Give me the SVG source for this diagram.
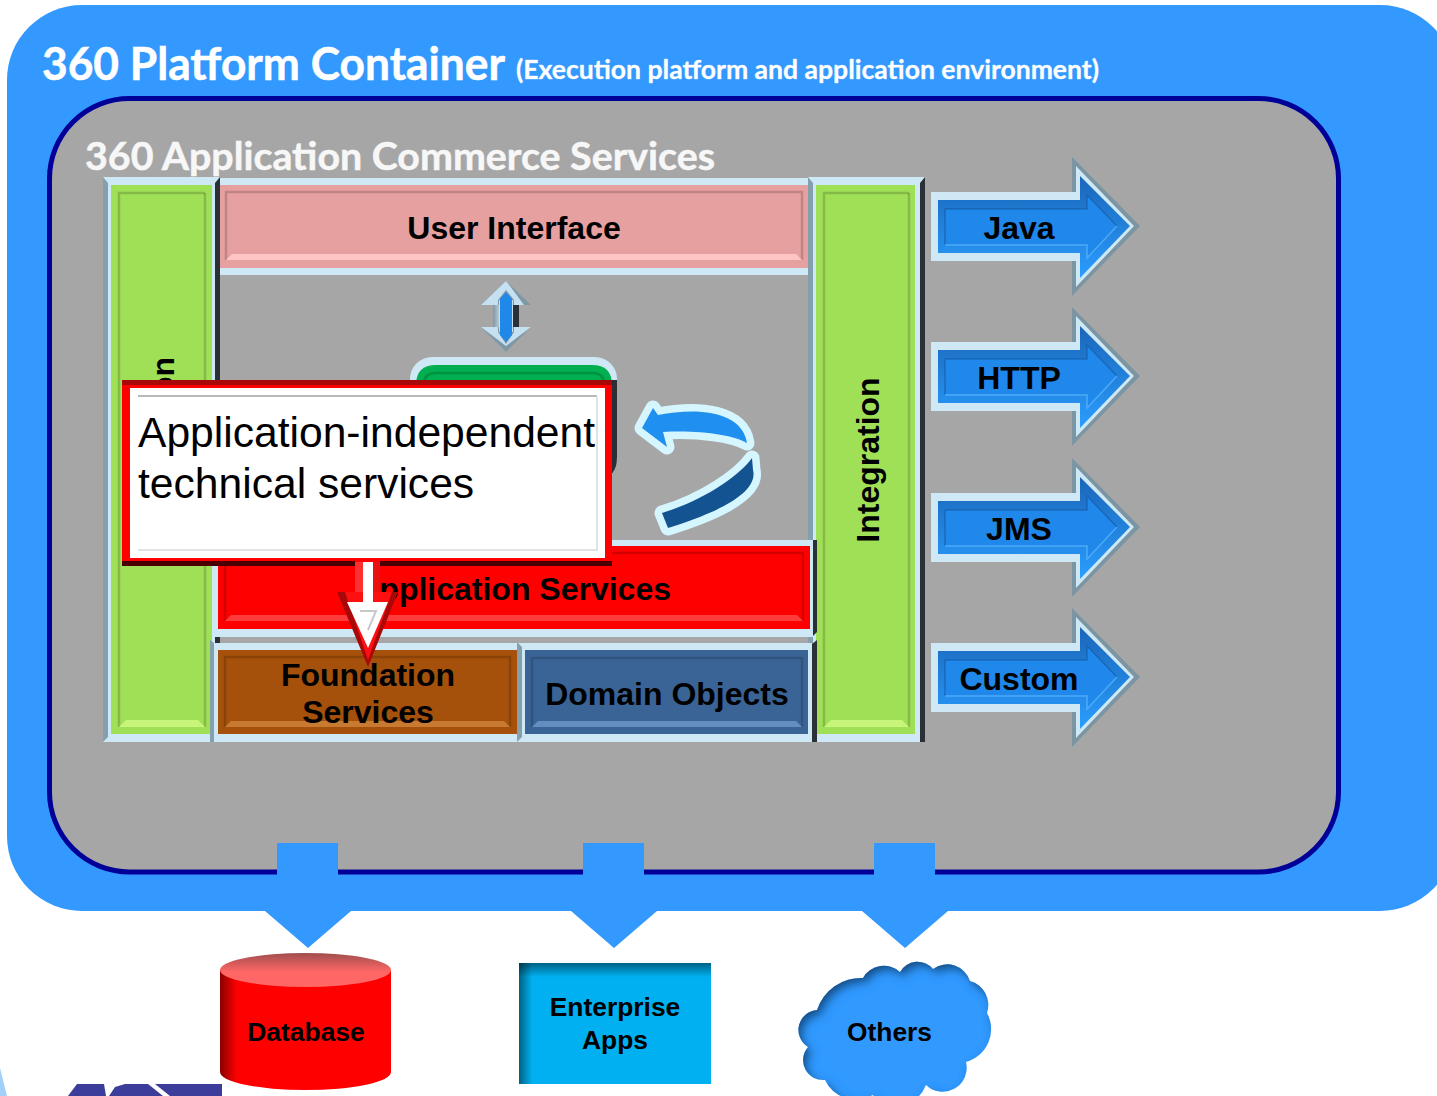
<svg xmlns="http://www.w3.org/2000/svg" width="1437" height="1096" viewBox="0 0 1437 1096">
<style>
.t{font-family:"Liberation Sans",Arial,sans-serif;font-weight:700;fill:#000;text-anchor:middle}
.b32{font-size:32px}.b27{font-size:26.4px}
.h{font-family:Lato,"Open Sans",sans-serif;font-weight:700;stroke-width:.5}
.lt{fill:#cfe8f6}.gy{fill:#84a0ae}.dk{fill:#2b3036}
.ed{fill:none;stroke:#000;stroke-opacity:.17;stroke-width:2.5}
</style>
<defs>
<linearGradient id="arBlue" x1="0" y1="0" x2="0" y2="1"><stop offset="0" stop-color="#1a66b8"/><stop offset="1" stop-color="#2a9dff"/></linearGradient>
<linearGradient id="dbSide" x1="0" y1="0" x2="1" y2="0"><stop offset="0" stop-color="#8a0000"/><stop offset=".1" stop-color="#ff0000"/><stop offset="1" stop-color="#ff0000"/></linearGradient>
<linearGradient id="dbTop" x1="0" y1="0" x2="0" y2="1"><stop offset="0" stop-color="#a04e4e"/><stop offset=".55" stop-color="#ff6666"/><stop offset="1" stop-color="#ff6666"/></linearGradient>
<linearGradient id="apTop" x1="0" y1="0" x2="0" y2="1"><stop offset="0" stop-color="#000" stop-opacity=".45"/><stop offset="1" stop-color="#000" stop-opacity="0"/></linearGradient>
<linearGradient id="apLeft" x1="0" y1="0" x2="1" y2="0"><stop offset="0" stop-color="#000" stop-opacity=".45"/><stop offset="1" stop-color="#000" stop-opacity="0"/></linearGradient>
<linearGradient id="shGy" x1="0" y1="0" x2="1" y2="0"><stop offset="0" stop-color="#7f97a6"/><stop offset="1" stop-color="#b4cad6"/></linearGradient>
<filter id="inShadow" x="-10%" y="-10%" width="120%" height="120%">
<feOffset in="SourceAlpha" dx="4" dy="5" result="o"/><feGaussianBlur in="o" stdDeviation="5" result="b"/>
<feComposite in="SourceAlpha" in2="b" operator="out" result="i"/>
<feFlood flood-color="#0b2a4a" flood-opacity=".85"/><feComposite in2="i" operator="in" result="s"/>
<feMerge><feMergeNode in="SourceGraphic"/><feMergeNode in="s"/></feMerge>
</filter>
<g id="arw">
<polygon fill="#7c95a3" points="931,192 1072,192 1072,157 1140,226 1072,296 1072,261 931,261"/>
<polygon class="lt" points="931,192 1076,192 1076,166 1134,226 1076,287 1076,261 931,261"/>
<polygon fill="url(#arBlue)" points="938,200 1080,200 1080,176 1130,226 1080,278 1080,253 938,253"/>
<polygon fill="#2088ea" points="945,209 1087,209 1087,195 1117,226 1087,258 1087,245 945,245"/>
<polyline fill="none" stroke="#14549c" stroke-opacity=".55" stroke-width="1.500" points="945,245 945,209 1087,209 1087,195 1117,226"/>
<polyline fill="none" stroke="#5cb8ff" stroke-opacity=".7" stroke-width="1.500" points="945,245 1087,245 1087,258 1117,226"/>
</g>
</defs>

<g id="platform">
<rect x="7" y="5" width="1448" height="906" rx="75" ry="75" fill="#3399ff"/>
<text class="h" x="42" y="80" font-size="45" fill="#fff" stroke="#fff" textLength="463" lengthAdjust="spacingAndGlyphs">360 Platform Container</text>
<text class="h" x="516" y="79" font-size="26" fill="#fff" stroke="#fff" stroke-opacity=".6" textLength="583" lengthAdjust="spacingAndGlyphs">(Execution platform and application environment)</text>
</g>

<g id="commerce">
<rect x="49.500" y="98.500" width="1289" height="773.500" rx="80" ry="80" fill="#a6a6a6" stroke="#000099" stroke-width="5"/>
<text class="h" x="85" y="170" font-size="39" fill="#f7f7f7" stroke="#f7f7f7" textLength="630" lengthAdjust="spacingAndGlyphs">360 Application Commerce Services</text>
</g>

<g id="left-bar">
<rect class="lt" x="103" y="177" width="117" height="565"/>
<polygon class="gy" points="103,177 108,183 108,737 103,742"/>
<polygon class="dk" points="220,177 215,183 215,742 220,742"/>
<rect x="111" y="185" width="101" height="549" fill="#a0e057"/>
<polyline class="ed" points="119,727 119,193 205,193"/>
<polyline class="ed" stroke-opacity=".1" points="205,193 205,727"/>
<polygon fill="#c6f57a" points="119,727 205,727 198,720 126,720"/>
<text class="t b32" transform="translate(174,357) rotate(-90)" style="text-anchor:end">on</text>
</g>

<g id="user-interface">
<rect class="lt" x="220" y="178" width="588" height="97"/>
<rect x="220" y="185" width="588" height="83" fill="#e6a0a0"/>
<polyline class="ed" points="226,260 226,192 802,192 802,260"/>
<polygon fill="#ffc4c4" points="226,260 802,260 796,254 232,254"/>
<text class="t b32" x="514" y="239">User Interface</text>
</g>

<g id="integration">
<rect class="lt" x="808" y="177" width="117" height="565"/>
<polygon class="gy" points="808,177 813,183 813,742 808,742"/>
<polygon class="dk" points="925,177 920,183 920,742 925,742"/>
<rect x="816" y="185" width="99" height="549" fill="#a0e057"/>
<polyline class="ed" points="824,727 824,193 909,193"/>
<polyline class="ed" stroke-opacity=".1" points="909,193 909,727"/>
<polygon fill="#c6f57a" points="824,727 909,727 902,720 831,720"/>
<text class="t b32" transform="translate(879,460) rotate(-90)">Integration</text>
</g>

<g id="application-logic">
<rect x="410" y="357" width="207" height="122" rx="22" class="lt"/>
<path d="M617,380 V457 Q617,477 600,479 L596,475 Q612,470 612,455 V380 Z" class="dk"/>
<path d="M416,480 V385 Q416,365 436,365 H592 Q612,365 612,385 V480 Z" fill="#00b050"/>
<path d="M424,384 Q424,373 436,373 H592 Q604,373 604,384" class="ed"/>
</g>

<g id="app-services">
<rect class="lt" x="212" y="540" width="603" height="97"/>
<rect x="218" y="546" width="592" height="83" fill="#ff0000"/>
<polygon class="dk" points="813,540 817,540 817,632 813,636"/>
<polyline class="ed" points="225,621 225,553 803,553 803,621"/>
<polygon fill="#ff3c3c" points="225,621 803,621 797,615 231,615"/>
<text class="t b32" x="671" y="600" style="text-anchor:end">Application Services</text>
</g>

<g id="foundation">
<rect class="lt" x="212" y="643" width="307" height="99"/>
<polygon class="gy" points="210,640 214,643 214,742 210,742"/>
<rect x="218" y="650" width="299" height="84" fill="#a5510b"/>
<polyline class="ed" points="225,727 225,657 510,657 510,727"/>
<polygon fill="#c87a30" points="225,727 510,727 504,721 231,721"/>
<text class="t b32" x="368" y="686">Foundation</text>
<text class="t b32" x="368" y="723">Services</text>
</g>

<g id="domain-objects">
<rect class="lt" x="517" y="643" width="295" height="99"/>
<polygon class="gy" points="517,642 522,647 522,737 517,742"/>
<polygon class="dk" points="812,644 817,640 817,742 812,742"/>
<rect x="525" y="650" width="283" height="84" fill="#3b6496"/>
<polyline class="ed" points="532,727 532,658 802,658 802,727"/>
<polygon fill="#638ebf" points="532,727 802,727 796,721 538,721"/>
<text class="t b32" x="667" y="705">Domain Objects</text>
</g>

<g id="java"><use href="#arw"/><text class="t b32" x="1019" y="239">Java</text></g>
<g id="http"><use href="#arw" y="150"/><text class="t b32" x="1019" y="389">HTTP</text></g>
<g id="jms"><use href="#arw" y="301"/><text class="t b32" x="1019" y="540">JMS</text></g>
<g id="custom"><use href="#arw" y="451"/><text class="t b32" x="1019" y="690">Custom</text></g>

<g id="database">
<path d="M220,970 V1072 A85.500,18 0 0 0 391,1072 V970 Z" fill="url(#dbSide)"/>
<ellipse cx="305.500" cy="970" rx="85.500" ry="17" fill="url(#dbTop)"/>
<text class="t b27" x="306" y="1041">Database</text>
</g>

<g id="enterprise-apps">
<rect x="519" y="963" width="192" height="121" fill="#00b0f0"/>
<rect x="519" y="963" width="192" height="14" fill="url(#apTop)"/>
<rect x="519" y="963" width="13" height="121" fill="url(#apLeft)"/>
<text class="t b27" x="615" y="1016">Enterprise</text>
<text class="t b27" x="615" y="1049">Apps</text>
</g>

<g id="others">
<path filter="url(#inShadow)" fill="#3399ff" d="M817,1010 A46,46 0 0 1 863,978 A24,24 0 0 1 900,972 A20,20 0 0 1 933,969 A24,24 0 0 1 970,981 A25,25 0 0 1 987,1013 A34,34 0 0 1 966,1062 A24,24 0 0 1 926,1085 Q920,1100 905,1105 L880,1105 Q875,1100 873,1095 A34,34 0 0 1 825,1080 A20,20 0 0 1 808,1047 A20,20 0 0 1 817,1010 Z"/>
<text class="t b27" x="889.500" y="1041">Others</text>
</g>

<g id="logo">
<polygon fill="#a3d0fb" points="0,1068 7,1096 0,1096"/>
<polygon fill="#3c3c9a" points="68,1096 77,1084 104,1084 106,1096"/>
<polygon fill="#3c3c9a" points="109,1096 115,1087 125,1084 148,1084 163,1096"/>
<polygon fill="#3c3c9a" points="155,1084 222,1084 222,1096 170,1096"/>
</g>

<g id="connectors">
<g id="tab-database"><polygon fill="#3399ff" points="277,843 338,843 338,911 351,911 308,948 265,911 277,911"/></g>
<g id="tab-enterprise"><polygon fill="#3399ff" points="583,843 644,843 644,911 657,911 614,948 571,911 583,911"/></g>
<g id="tab-others"><polygon fill="#3399ff" points="874,843 935,843 935,911 948,911 905,948 862,911 874,911"/></g>
<g id="updown">
<polygon fill="#7f98a6" points="506,281 531,305 519,305 519,327 531,327 506,352 481,327 493,327 493,305 481,305"/>
<polygon fill="#c5e0f0" points="506,281 481,305 498,305 498,300 506,290 514,300 514,305 524,305 510,286"/>
<polygon fill="#c5e0f0" points="481,327 498,327 498,332 506,344 514,332 514,327 531,327 506,346"/>
<rect x="493" y="305" width="6" height="22" fill="url(#shGy)"/>
<rect x="499" y="300" width="14" height="32" fill="#c5e0f0"/>
<rect x="513" y="305" width="6" height="22" class="dk"/>
<polygon fill="#2088e8" points="506,292 512,299 512,335 506,342 500,335 500,299"/>
</g>
<g id="loop">
<path d="M642,428 L653,408 L658,415 C700,407 742,412 747,443 C733,435 700,430 663,432 L667,447 Z" fill="#2090f0" stroke="#d6f6ff" stroke-width="15" stroke-linejoin="round" paint-order="stroke"/>
<path d="M752,458 C740,475 705,500 662,513 L668,528 C700,518 760,497 753,470 Z" fill="#135391" stroke="#d6f6ff" stroke-width="15" stroke-linejoin="round" paint-order="stroke"/>
</g>
</g>

<g id="callout">
<rect x="355" y="562" width="8" height="30" fill="#ff3030"/>
<rect x="373" y="562" width="7" height="30" fill="#e81010"/>
<polygon fill="#a80808" points="337,592 398,592 368,667"/>
<polygon fill="#ff1010" points="345,592 392,592 368,660"/>
<polygon fill="#fff" points="347,602 363,602 363,558 373,558 373,602 388,602 368,648"/>
<polyline fill="none" stroke="#c9c9c9" stroke-width="2" points="360,611 376,611 368,630"/>
<rect x="122" y="380" width="490" height="182" fill="#ff0000"/>
<rect x="122" y="380" width="490" height="5" fill="#a80808"/>
<rect x="122" y="561" width="233" height="5" fill="#4a0000"/>
<rect x="380" y="561" width="232" height="5" fill="#4a0000"/>
<rect x="130" y="388" width="475" height="170" fill="#fff"/>
<polyline fill="none" stroke="#b9b9b9" stroke-width="2" points="138,396 597,396"/>
<polyline fill="none" stroke="#e2e2e2" stroke-width="2" points="597,396 597,550 138,550"/>
<text x="138" y="447" font-family="'Liberation Sans',Arial,sans-serif" font-size="42.600" fill="#000">Application-independent</text>
<text x="138" y="498" font-family="'Liberation Sans',Arial,sans-serif" font-size="42.600" fill="#000">technical services</text>
</g>
</svg>
